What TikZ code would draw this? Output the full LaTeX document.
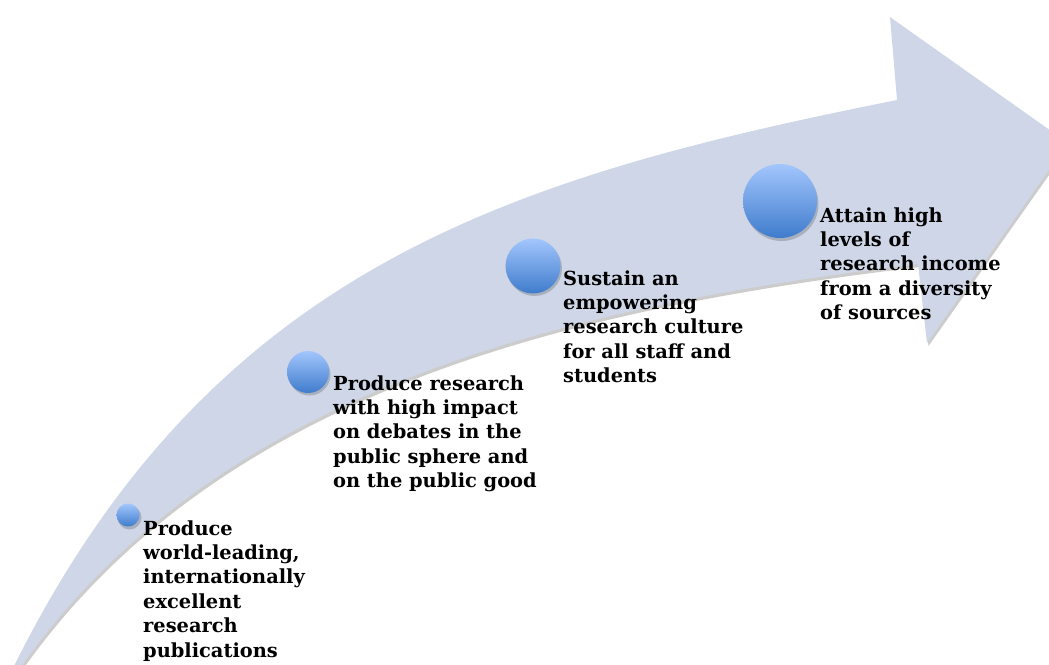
\documentclass[tikz,border=0pt]{standalone}
\usepackage{fontspec}
\setmainfont{DejaVu Serif}
\definecolor{arrowfill}{HTML}{CED6E7}
\definecolor{balltop}{HTML}{A3C6FD}
\definecolor{ballbot}{HTML}{3F7CCC}
\tikzset{
  ball/.style={circle, inner sep=0pt, top color=balltop, bottom color=ballbot, draw=none},
  ballshadow/.style={circle, inner sep=0pt, fill=black, opacity=0.18, draw=none},
  label/.style={anchor=base west, inner sep=0pt, align=left,
    font=\fontsize{19.4}{24.4}\selectfont\bfseries}
}
\begin{document}
\begin{tikzpicture}[x=1pt,y=-1pt]
\useasboundingbox (0,0) rectangle (1049,664);
\clip (0,0) rectangle (1049,664);
\foreach \dx/\dy/\col/\op in {1.5/3/gray/0.40, 0/0/arrowfill/1} {
\fill[\col, opacity=\op, shift={(\dx,\dy)}]
  (8,682) -- (15,664) .. controls (215,264) and (517,176) .. (897,100)
  -- (890,17) -- (1068,143) -- (927,343) -- (918,264)
  .. controls (578,305) and (223,384) .. (23,664)
  -- cycle;
}
% ball shadows
\node[ballshadow, minimum size=24pt] (s1) at (129.5,517.5) {};
\node[ballshadow, minimum size=42pt] (s2) at (309.5,374.5) {};
\node[ballshadow, minimum size=55pt] (s3) at (534.5,268.5) {};
\node[ballshadow, minimum size=74pt] (s4) at (781.5,204) {};
% balls
\node[ball, minimum size=23pt] (c1) at (128,515) {};
\node[ball, minimum size=42pt] (c2) at (308,372) {};
\node[ball, minimum size=55pt] (c3) at (533,266) {};
\node[ball, minimum size=74pt] (c4) at (780,201) {};
% labels (base anchor = baseline of last line)
\node[label] (t1) at (143,657) {Produce\\world-leading,\\internationally\\excellent\\research\\publications};
\node[label] (t2) at (333,487.6) {Produce research\\with high impact\\on debates in the\\public sphere and\\on the public good};
\node[label] (t3) at (563,382.6) {Sustain an\\empowering\\research culture\\for all staff and\\students};
\node[label] (t4) at (820,319.6) {Attain high\\levels of\\research income\\from a diversity\\of sources};
\end{tikzpicture}
\end{document}
